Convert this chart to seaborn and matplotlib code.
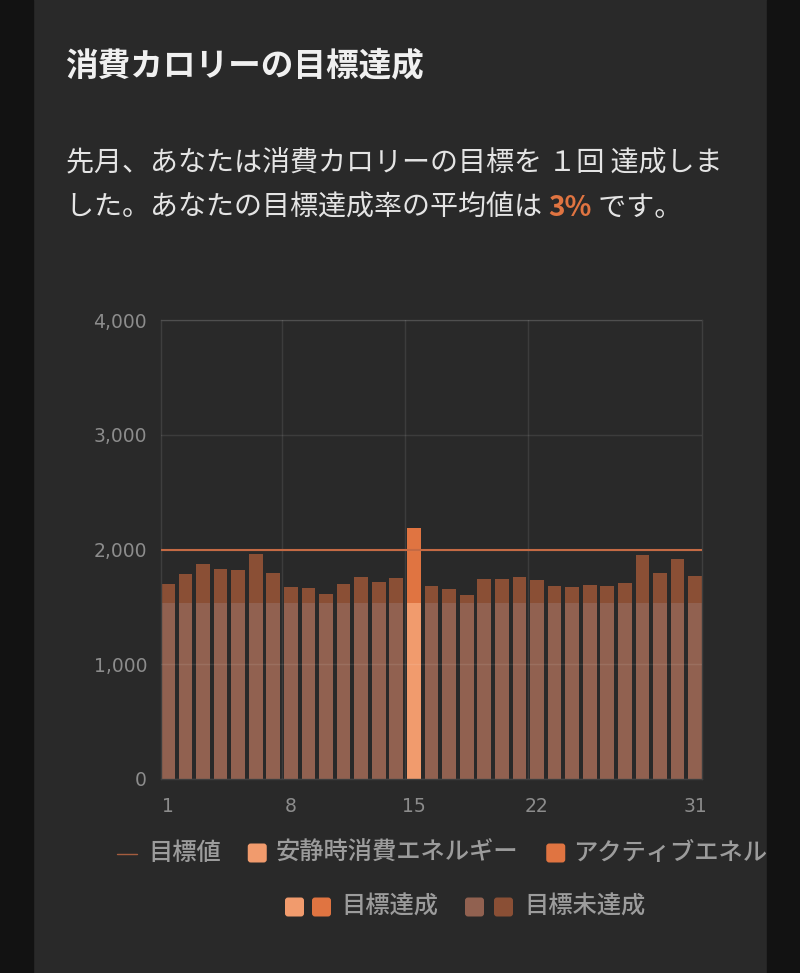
import numpy as np
import pandas as pd
import matplotlib
matplotlib.use("Agg")
import matplotlib.pyplot as plt
from matplotlib.patches import Rectangle, FancyBboxPatch
from matplotlib.lines import Line2D
from matplotlib.transforms import IdentityTransform
import seaborn as sns

# ---- data ----
days = list(range(1, 32))
resting = [1535] * 31
total = [1699, 1787, 1876, 1833, 1818, 1961, 1795, 1673, 1664, 1612,
         1697, 1760, 1720, 1752, 2190, 1685, 1653, 1603, 1743, 1743,
         1763, 1731, 1685, 1676, 1688, 1685, 1708, 1949, 1792, 1920, 1772]
goal = 2000
y_ticks = [0, 1000, 2000, 3000, 4000]
x_tick_days = [1, 8, 15, 22, 31]
grid_days = [8, 15, 22]

title = "消費カロリーの目標達成"
line1 = "先月、あなたは消費カロリーの目標を １回 達成しま"
line2_parts = ["した。あなたの目標達成率の平均値は ", "3%", " です。"]
legend_row1 = ["目標値", "安静時消費エネルギー", "アクティブエネルギー"]
legend_row2 = ["目標達成", "目標未達成"]

# ---- colours ----
panel = "#292929"
strip = "#121212"
grid_col = "#3e3e3e"
tick_col = "#8c8c8c"
legend_txt = "#9c9c9c"
goal_col = "#c46a44"
rest_hit, act_hit = "#f19b6d", "#e07441"
rest_miss, act_miss = "#916150", "#8a4f35"

W, H = 800, 973

df = pd.DataFrame({"day": days, "total": total, "resting": resting})
df["status"] = np.where(df["total"] >= goal, "hit", "miss")

sns.set_style("dark")
plt.rcParams["font.family"] = ["Noto Sans CJK JP", "DejaVu Sans"]

fig = plt.figure(figsize=(W / 100, H / 100), dpi=100)
fig.patch.set_facecolor(panel)
ax = fig.add_axes([161 / W, 1 - 779 / H, (702 - 161) / W, (779 - 320) / H])
ax.set_facecolor(panel)

# stacked bars: total (active on top) then resting drawn over it
sns.barplot(data=df, x="day", y="total", hue="status",
            palette={"hit": act_hit, "miss": act_miss}, dodge=False,
            width=0.78, saturation=1, errorbar=None, legend=False, ax=ax,
            linewidth=0)
sns.barplot(data=df, x="day", y="resting", hue="status",
            palette={"hit": rest_hit, "miss": rest_miss}, dodge=False,
            width=0.78, saturation=1, errorbar=None, legend=False, ax=ax,
            linewidth=0)
ax.axhline(goal, color=goal_col, lw=1.5, zorder=4)

ax.set_xlim(-0.39, len(days) - 1 + 0.39)
ax.set_ylim(0, 4000)
ax.set_yticks(y_ticks)
ax.set_yticklabels([f"{v:,}" for v in y_ticks])
ax.set_xticks([d - 1 for d in x_tick_days])
ax.set_xticklabels([str(d) for d in x_tick_days])
ax.set_xticks([d - 1.5 for d in grid_days], minor=True)
ax.set_xlabel("")
ax.set_ylabel("")
ax.set_axisbelow(False)
ax.grid(False)
ax.grid(True, axis="y", which="major", color="white", alpha=0.09, lw=1, zorder=3)
ax.grid(True, axis="x", which="minor", color="white", alpha=0.09, lw=1, zorder=3)
ax.tick_params(which="both", length=0)
ax.tick_params(axis="y", pad=10, labelsize=13.5, labelcolor=tick_col)
ax.tick_params(axis="x", pad=13, labelsize=13.5, labelcolor=tick_col)
for lab in ax.get_xticklabels() + ax.get_yticklabels():
    lab.set_fontfamily("DejaVu Sans")
for sp in ax.spines.values():
    sp.set_visible(True)
    sp.set_color(grid_col)
    sp.set_linewidth(1)


def fx(x):
    return x / W


def fy(y):
    return 1 - y / H


r = fig.canvas.get_renderer()


def width_px(t):
    bb = t.get_window_extent(renderer=r)
    return bb.x1 - bb.x0


# title and summary
fig.text(fx(65), fy(66), title, fontsize=23.5, fontweight="bold",
         color="#f0f0f0", va="center", ha="left")
fig.text(fx(66), fy(162), line1, fontsize=20.2, color="#e4e4e4",
         va="center", ha="left")
x = 66
for part, col, wt in zip(line2_parts, ["#e4e4e4", act_hit, "#e4e4e4"],
                         ["normal", "bold", "normal"]):
    t = fig.text(fx(x), fy(208), part, fontsize=20.2, color=col,
                 fontweight=wt, va="center", ha="left")
    x += width_px(t)


def square(x, yc, col):
    p = FancyBboxPatch((x, H - yc - 9.5), 19, 19,
                       boxstyle="round,pad=0,rounding_size=3",
                       transform=IdentityTransform(), fc=col, ec="none",
                       zorder=3)
    fig.add_artist(p)
    return x + 19


def label(x, yc, s):
    t = fig.text(fx(x), fy(yc), s, fontsize=17.5, color=legend_txt,
                 fontweight="medium", va="center", ha="left", zorder=3)
    return x + width_px(t)


# legend row 1
y1 = 853
x = 117
fig.add_artist(Line2D([fx(x), fx(x + 20)], [fy(y1 + 1), fy(y1 + 1)],
                      transform=fig.transFigure, color=goal_col, lw=1, alpha=0.8))
x = label(x + 31, y1, legend_row1[0])
x = square(x + 27, y1, rest_hit)
x = label(x + 9, y1, legend_row1[1])
x = square(x + 28, y1, act_hit)
x = label(x + 8, y1, legend_row1[2])

# legend row 2
y2 = 907
x = 285
x = square(x, y2, rest_hit)
x = square(x + 8, y2, act_hit)
x = label(x + 10, y2, legend_row2[0])
x = square(x + 27, y2, rest_miss)
x = square(x + 10, y2, act_miss)
x = label(x + 11, y2, legend_row2[1])

# dark strips around the card (clip the overflowing legend)
fig.add_artist(Rectangle((0, 0), 33 / W, 1, transform=fig.transFigure,
                         color=strip, zorder=10))
fig.add_artist(Rectangle((767 / W, 0), 33 / W, 1, transform=fig.transFigure,
                         color=strip, zorder=10))

fig.savefig("out.png", dpi=100, facecolor=fig.get_facecolor())
